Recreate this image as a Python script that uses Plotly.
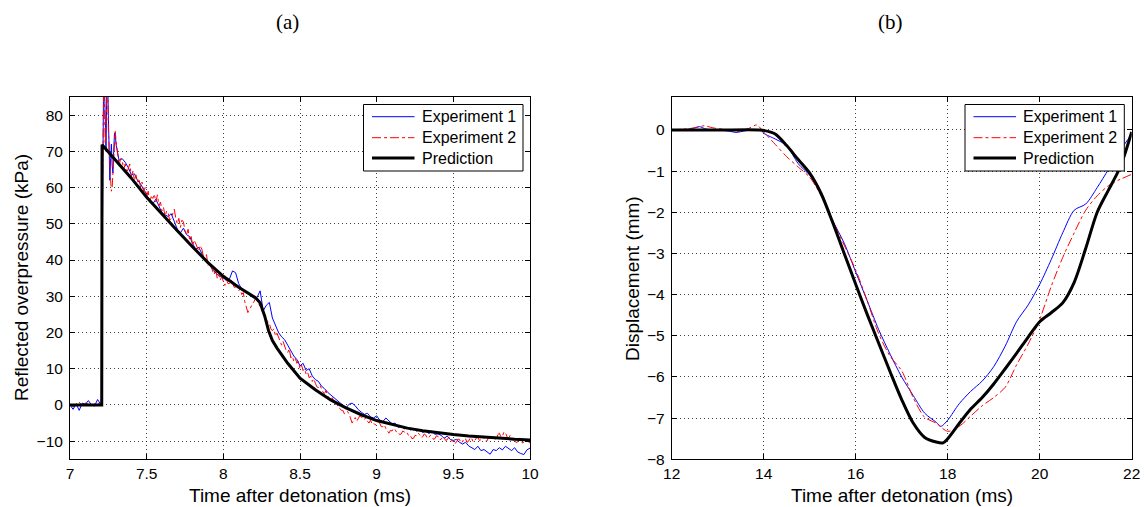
import numpy as np
import plotly.graph_objects as go

# ---------------- Panel (a): reflected overpressure ----------------
exp1_a_t = np.round(np.concatenate([
    np.arange(7.00, 7.2001, 0.02),
    np.arange(7.205, 7.2951, 0.005),
    np.arange(7.30, 10.0001, 0.02)]), 3)
exp1_a_p = [
    0, -1.2, 0.3, -1.5, 0.5, 0.2, 1.2, 0, -0.3, 1.5, 0.2,
    0.5, 40, 86, 95, 88, 76, 70, 88, 92, 80, 66, 62, 68, 72, 66, 64, 70, 75, 75,
    72, 67.5, 68, 67, 65.5, 63.5, 63.8, 62, 61, 59.5,
    58, 56, 55.5, 56.8, 55, 53, 52.5, 52, 52.8, 50.5,
    48.5, 47.5, 48.8, 47, 46.5, 44.5, 43, 43.5, 41.5, 40,
    39.5, 38, 37, 36, 35.5, 35, 34.5, 34.8, 37, 36.5,
    33.5, 32, 31.2, 30.8, 30, 29.5, 29.7, 31.5, 26, 27.5,
    28.3, 24, 22, 20, 18.8, 18, 16.5, 15, 13.5, 12.5,
    10.8, 11.5, 9.5, 10, 8, 7, 6.5, 5.2, 4.5, 3.5,
    2.8, 2, 1.2, 0.5, -0.2, -0.8, 0.2, 0.5, -0.2, -1.3,
    -2, -2.6, -2.3, -3.3, -3.6, -3.0, -4.2, -4.6, -3.6, -4.3,
    -5.2, -5, -6.2, -5.9, -6.6, -6.2, -6.9, -6.5, -7.2, -6.9,
    -7.6, -7.2, -7.9, -7.3, -8.1, -8.0, -8.4, -9.2, -8.6, -9.5,
    -9.8, -9.5, -10.3, -10.8, -10.3, -11.3, -11.8, -12.3, -11.4, -12.6,
    -12.3, -13, -13.6, -12.3, -12.6, -11.8, -12.4, -11.4, -12, -12.6,
    -11.8, -13, -13.4, -13.7, -12.4, -11.9]

exp2_a_t = np.round(np.concatenate([
    np.arange(7.00, 7.2001, 0.02),
    np.arange(7.205, 7.2951, 0.005),
    np.arange(7.30, 10.0001, 0.01)]), 3)
exp2_a_p = [
    0.3, -0.5, 0.2, 0.8, -0.3, 0.5, 0.2, -0.4, 0.3, 0.6, 0.1,
    1, 50, 80, 90, 82, 72, 78, 86, 90, 76, 70, 66, 62, 59, 60, 64, 68, 74, 75.5,
    73, 70, 66, 68, 67.5, 65, 66.5, 64, 65, 66.5, 63, 64.5, 62, 63.5, 61.5, 62.5, 60, 61.5, 59, 60,
    57.5, 59, 56, 57.5, 57, 58.2, 56, 58, 55, 56, 53.5, 54.5, 52, 53.5, 53, 51, 51.5, 53, 54, 51.5,
    50, 51.5, 49, 51, 50.5, 48, 47, 48.5, 45.5, 46.5, 44, 45.5, 44.5, 43, 42.5, 44, 43, 41, 40, 41.5,
    38.5, 39.5, 38, 37, 36, 37.5, 35, 36, 34.5, 35.5, 34, 33, 34.8, 33.5, 33.5, 34.5, 34, 32.5, 32.5, 33,
    31.5, 32, 30.5, 31, 28.5, 27, 25.5, 26.5, 27, 28, 28.5, 29.5, 29, 28, 27, 26.5, 25.5, 24.5, 23.5, 23,
    22.5, 21, 20.5, 21, 19, 19.8, 18.5, 17.5, 16.5, 17.5, 16, 15, 14.5, 15.5, 13, 13.5, 12, 12.8, 11.5, 12,
    10, 11, 9.5, 10, 8.5, 9, 7.5, 8, 6.5, 7.2, 6, 5, 4.8, 5.5, 4.5, 3.5, 3.2, 4, 2.5, 2,
    1.5, 2, 1, 0, -0.5, 0.2, -1, -1.5, -1.5, -2.5, -2, -1.8, -2.5, -4, -5, -4.2, -3.5, -4.5, -3.8, -3,
    -3.2, -4, -4, -3.5, -4.5, -5, -4.2, -5.2, -5, -5.5, -5.3, -4.6, -5, -6, -6, -5.5, -6.5, -7, -7.8, -7,
    -7.2, -6.5, -6.8, -7.5, -7.5, -8.2, -8, -7.2, -7.4, -8, -7.8, -8.6, -8.5, -9.3, -9.2, -8.4, -8.5, -7.8, -8.2, -9,
    -8.8, -8, -8.3, -9.2, -9, -8.4, -8.6, -9.5, -9.3, -8.5, -8.7, -9.6, -9.5, -8.8, -9, -9.8, -9.6, -8.9, -9.2, -10,
    -9.8, -10.6, -10.3, -9.4, -9.5, -10.5, -10.2, -9.2, -9.4, -10.3, -10, -9, -9.3, -10.2, -9.8, -9.1, -9, -9.8, -9.6, -8.8,
    -9.2, -10, -9.9, -9, -9.1, -8.6, -8.5, -9.4, -9.6, -8.2, -7.8, -8.8, -8.6, -7.5, -7.6, -8.8, -9.2, -8.4, -8.8, -9.8,
    -9.6, -10.4, -10.2, -9.2, -9.4, -10.5, -10.3, -9.5, -9.8, -10.2, -10.5]

pred_a_t = [7.0, 7.207, 7.209, 7.3, 7.4, 7.5, 7.6, 7.7, 7.8, 7.9, 8.0, 8.1,
            8.21, 8.24, 8.27, 8.295, 8.32, 8.35, 8.42, 8.5, 8.6, 8.7, 8.8,
            8.9, 9.0, 9.1, 9.2, 9.3, 9.4, 9.5, 9.6, 9.7, 9.8, 9.9, 10.0]
pred_a_p = [0, 0, 71.8, 67.5, 62.6, 57.3, 52.6, 48.1, 43.6, 39.3, 35.5, 32.5,
            29.6, 28.2, 24.5, 20.5, 17.8, 15.7, 11.5, 7.4, 4.2, 1.4, -0.8,
            -2.7, -4.3, -5.4, -6.4, -7.1, -7.7, -8.15, -8.55, -8.9, -9.2, -9.45, -9.65]

# ---------------- Panel (b): displacement ----------------
exp1_b_t = [12, 12.25, 12.5, 12.6, 12.75, 13.0, 13.25, 13.4, 13.6, 13.8, 13.95,
            14.0, 14.25, 14.5, 14.75, 15.0, 15.25, 15.5, 15.75, 16.0, 16.25,
            16.5, 16.75, 17.0, 17.25, 17.5, 17.75, 17.85, 18.0, 18.25, 18.5,
            18.75, 19.0, 19.25, 19.5, 19.75, 20.0, 20.25, 20.5, 20.75, 21.0,
            21.25, 21.5, 21.75, 22.0]
exp1_b_d = [0, 0, 0.05, 0.08, 0.02, 0, -0.03, -0.06, -0.02, 0, 0,
            -0.08, -0.22, -0.38, -0.82, -1.1, -1.55, -2.2, -2.75, -3.45, -4.15,
            -4.85, -5.45, -6.0, -6.45, -6.88, -7.1, -7.2, -7.05, -6.65, -6.35,
            -6.1, -5.75, -5.25, -4.65, -4.25, -3.75, -3.15, -2.5, -1.95, -1.8,
            -1.4, -0.95, -0.5, -0.1]

exp2_b_t = [12, 12.25, 12.5, 12.7, 12.9, 13.1, 13.3, 13.5, 13.7, 13.85,
            14.0, 14.25, 14.5, 14.75, 15.0, 15.25, 15.5, 15.75, 16.0, 16.25,
            16.5, 16.75, 17.0, 17.25, 17.5, 17.75, 18.0, 18.25, 18.5, 18.75,
            19.0, 19.25, 19.5, 19.75, 20.0, 20.25, 20.5, 20.75, 21.0, 21.25,
            21.5, 21.75, 22.0]
exp2_b_d = [0, 0.02, 0.05, 0.1, 0.05, 0.02, -0.02, -0.03, 0.05, 0.12,
            -0.05, -0.35, -0.65, -0.9, -1.15, -1.6, -2.2, -2.8, -3.4, -4.15,
            -4.95, -5.5, -5.85, -6.5, -6.98, -7.12, -7.32, -7.2, -6.95, -6.7,
            -6.5, -6.25, -5.7, -5.2, -4.6, -3.8, -3.1, -2.5, -1.95, -1.6,
            -1.35, -1.2, -1.08]

pred_b_t = [12, 13.0, 13.9, 14.0, 14.25, 14.5, 14.75, 15.0, 15.25, 15.5, 15.75,
            16.0, 16.25, 16.5, 16.75, 17.0, 17.25, 17.5, 17.75, 17.9, 18.0,
            18.25, 18.5, 18.75, 19.0, 19.25, 19.5, 19.75, 20.0, 20.25, 20.5,
            20.75, 21.0, 21.25, 21.5, 21.75, 22.0]
pred_b_d = [0, 0, 0, -0.01, -0.1, -0.38, -0.72, -1.05, -1.55, -2.25, -3.0,
            -3.75, -4.48, -5.18, -5.88, -6.55, -7.12, -7.47, -7.58, -7.6, -7.5,
            -7.13, -6.78, -6.5, -6.17, -5.8, -5.42, -5.03, -4.66, -4.44, -4.2,
            -3.7, -2.88, -2.0, -1.45, -0.9, -0.05]

legend_names = ["Experiment 1", "Experiment 2", "Prediction"]
xticks_a = [7, 7.5, 8, 8.5, 9, 9.5, 10]
xticks_a_text = ["7", "7.5", "8", "8.5", "9", "9.5", "10"]
yticks_a = [-10, 0, 10, 20, 30, 40, 50, 60, 70, 80]
yticks_a_text = ["\u221210", "0", "10", "20", "30", "40", "50", "60", "70", "80"]
xticks_b = [12, 14, 16, 18, 20, 22]
yticks_b = [-8, -7, -6, -5, -4, -3, -2, -1, 0]
yticks_b_text = ["\u22128", "\u22127", "\u22126", "\u22125", "\u22124", "\u22123", "\u22122", "\u22121", "0"]

W, H = 1144, 507
OFF = 0
FONT = "Liberation Sans, Arial, Helvetica, sans-serif"

BLUE = "#0000ff"
RED = "#ff0000"
styles = [dict(color=BLUE, width=1), dict(color=RED, width=1, dash="dashdot"),
          dict(color="black", width=3)]

fig = go.Figure()
fig.add_trace(go.Scatter(x=exp1_a_t, y=exp1_a_p, mode="lines", name=legend_names[0],
                         line=styles[0], xaxis="x", yaxis="y"))
fig.add_trace(go.Scatter(x=exp2_a_t, y=exp2_a_p, mode="lines", name=legend_names[1],
                         line=styles[1], xaxis="x", yaxis="y"))
fig.add_trace(go.Scatter(x=pred_a_t, y=pred_a_p, mode="lines", name=legend_names[2],
                         line=styles[2], xaxis="x", yaxis="y"))
fig.add_trace(go.Scatter(x=exp1_b_t, y=exp1_b_d, mode="lines", name=legend_names[0],
                         line=dict(shape="spline", smoothing=0.8, **styles[0]),
                         xaxis="x2", yaxis="y2"))
fig.add_trace(go.Scatter(x=exp2_b_t, y=exp2_b_d, mode="lines", name=legend_names[1],
                         line=dict(shape="spline", smoothing=0.8, **styles[1]),
                         xaxis="x2", yaxis="y2"))
fig.add_trace(go.Scatter(x=pred_b_t, y=pred_b_d, mode="lines", name=legend_names[2],
                         line=dict(shape="spline", smoothing=0.8, **styles[2]),
                         xaxis="x2", yaxis="y2"))

def px_x(p):
    return (p - OFF) / W

def px_y(p):
    return 1 - (p - OFF) / H

y_dom = [px_y(459.3), px_y(97)]
axis_common = dict(
    showline=True, linecolor="black", linewidth=1, mirror="ticks",
    ticks="inside", ticklen=5, tickwidth=1, tickcolor="black",
    showgrid=True, gridcolor="rgba(0,0,0,0.75)", gridwidth=1, griddash="1px,3px",
    zeroline=False, tickfont=dict(family=FONT, size=15.5, color="black"),
    automargin=False,
)

fig.update_layout(
    width=W, height=H,
    margin=dict(l=0, r=0, t=0, b=0),
    paper_bgcolor="white", plot_bgcolor="white",
    font=dict(family=FONT, color="black"),
    showlegend=False,
    xaxis=dict(domain=[px_x(70), px_x(530)], range=[7, 10], tickvals=xticks_a,
               ticktext=xticks_a_text, anchor="y", **axis_common),
    yaxis=dict(domain=y_dom, range=[-15, 85], tickvals=yticks_a, ticktext=yticks_a_text,
               anchor="x", ticklabelstandoff=3, **axis_common),
    xaxis2=dict(domain=[px_x(671.7), px_x(1131.7)], range=[12, 22], tickvals=xticks_b,
                anchor="y2", **axis_common),
    yaxis2=dict(domain=y_dom, range=[-8, 0.8], tickvals=yticks_b, ticktext=yticks_b_text,
                anchor="x2", ticklabelstandoff=3, **axis_common),
)

# ---- legend boxes (MATLAB-style, opaque, top-right of each axes) ----
shapes = []
ann = []
legend_boxes = [dict(x0=363.5, x1=523.0), dict(x0=965.0, x1=1124.3)]
item_y = [116.7, 137.7, 158.0]
for box in legend_boxes:
    shapes.append(dict(type="rect", xref="paper", yref="paper", layer="above",
                       x0=px_x(box["x0"]), x1=px_x(box["x1"]),
                       y0=px_y(171.0), y1=px_y(104.5),
                       fillcolor="white", line=dict(color="black", width=1)))
    for name, st, yy in zip(legend_names, styles, item_y):
        shapes.append(dict(type="line", xref="paper", yref="paper", layer="above",
                           x0=px_x(box["x0"] + 8.5), x1=px_x(box["x0"] + 51),
                           y0=px_y(yy), y1=px_y(yy), line=st))
        ann.append(dict(text=name, x=px_x(box["x0"] + 56), y=px_y(yy), xref="paper",
                        yref="paper", showarrow=False, xanchor="left", yanchor="middle",
                        font=dict(family=FONT, size=16, color="black")))

serif = dict(family="Liberation Serif, DejaVu Serif, serif", size=21, color="black")
ann.append(dict(text="(a)", x=px_x(287), y=px_y(22), xref="paper", yref="paper",
                showarrow=False, xanchor="center", yanchor="middle", font=serif))
ann.append(dict(text="(b)", x=px_x(890), y=px_y(22), xref="paper", yref="paper",
                showarrow=False, xanchor="center", yanchor="middle", font=serif))
title_font = dict(family=FONT, size=19, color="black")
ann.append(dict(text="Time after detonation (ms)", x=px_x(300), y=px_y(495), xref="paper", yref="paper",
                showarrow=False, xanchor="center", yanchor="middle", font=title_font))
ann.append(dict(text="Time after detonation (ms)", x=px_x(901.7), y=px_y(495), xref="paper", yref="paper",
                showarrow=False, xanchor="center", yanchor="middle", font=title_font))
ann.append(dict(text="Reflected overpressure (kPa)", x=px_x(21), y=px_y(278), xref="paper", yref="paper",
                showarrow=False, xanchor="center", yanchor="middle", textangle=-90, font=title_font))
ann.append(dict(text="Displacement (mm)", x=px_x(632), y=px_y(278), xref="paper", yref="paper",
                showarrow=False, xanchor="center", yanchor="middle", textangle=-90, font=title_font))
fig.update_layout(shapes=shapes, annotations=ann)

fig.write_html("out.html", config={"displayModeBar": False},
               post_script="document.body.style.margin='0px';document.body.style.overflow='hidden';")
